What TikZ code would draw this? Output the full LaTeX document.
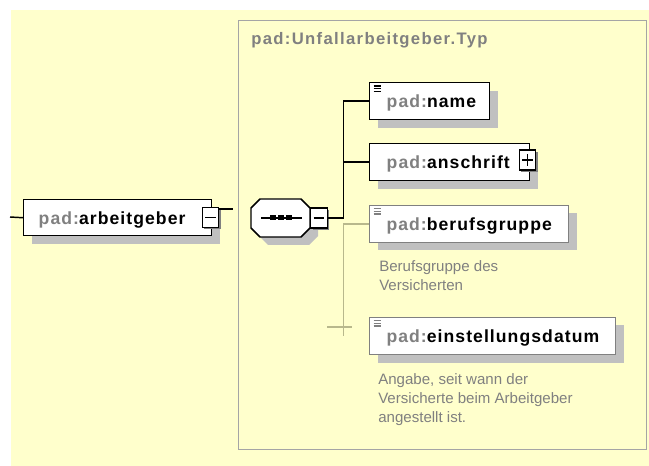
\documentclass[tikz,border=0pt]{standalone}
\usepackage{fontspec}
\setmainfont{Liberation Sans}
\newfontfamily\elemfont{Liberation Sans}[LetterSpace=6]
\newfontfamily\titlefont{Liberation Sans}[LetterSpace=8]
\usepackage{xcolor}
\definecolor{xsdyellow}{RGB}{255,255,204}
\definecolor{xsdgray}  {RGB}{128,128,128}
\definecolor{xsdframe} {RGB}{165,165,165}
\definecolor{xsdshade} {RGB}{192,192,192}
\definecolor{xsdbus}   {RGB}{184,184,140}
\usetikzlibrary{shadows,positioning}
\newcommand{\padpre}{{\color{xsdgray}pad:}}
\tikzset{
  elem/.style={rectangle, draw=black, line width=1.1pt, fill=white,
               anchor=north west, minimum height=27.75pt, inner xsep=12.75pt,
               inner ysep=0pt, text height=11pt, text depth=1.2pt, align=left,
               font=\elemfont\bfseries\fontsize{13.2pt}{15pt}\selectfont,
               drop shadow={shadow xshift=6pt, shadow yshift=-6pt,
                            fill=xsdshade, opacity=1}},
  optelem/.style={elem, draw=xsdgray, line width=0.75pt},
  simple/.style={path picture={
      \foreach \k in {0,1,2}
        \draw[line width=0.9pt] ([xshift=3pt, yshift=-2.4pt-2pt*\k]path picture bounding box.north west)
          -- ++(5.25pt,0);}},
  toggle/.style={rectangle, draw=black, line width=0.8pt, fill=white,
                 minimum width=12.5pt, minimum height=15pt, inner sep=0pt,
                 drop shadow={shadow xshift=1.5pt, shadow yshift=-1.5pt,
                              fill=xsdgray, opacity=1}},
  minus/.style={toggle, path picture={
      \draw[line width=0.8pt] ([xshift=-4pt]path picture bounding box.center)
        -- ([xshift=4pt]path picture bounding box.center);}},
  plus/.style={toggle, path picture={
      \draw[line width=0.8pt] ([xshift=-4pt]path picture bounding box.center)
        -- ([xshift=4pt]path picture bounding box.center);
      \draw[line width=0.8pt] ([yshift=-4.5pt]path picture bounding box.center)
        -- ([yshift=4.5pt]path picture bounding box.center);}},
  conn/.style={draw=black, line width=1.1pt},
  optconn/.style={draw=xsdbus, line width=0.9pt},
}

\begin{document}
\begin{tikzpicture}[
  x=0.75pt, y=-0.75pt,
  typbox/.style={rectangle, draw=xsdframe, line width=1.1pt, fill=xsdyellow,
                 anchor=north west, minimum width=306pt, minimum height=321.75pt},
  typtitle/.style={font=\titlefont\bfseries\fontsize{12.5pt}{14pt}\selectfont,
                   text=xsdgray, inner sep=0pt, anchor=base west},
  desc/.style={font=\fontsize{11.3pt}{14.25pt}\selectfont, text=xsdgray,
               align=left, inner sep=0pt, anchor=north west}
]
  \useasboundingbox (0,0) rectangle (649,466);
  \fill[xsdyellow] (11,10) rectangle (649,466);

  % complex type frame
  \node[typbox] (typ) at (238,20) {};
  \node[typtitle] (typname) at (251,45) {pad:Unfallarbeitgeber.Typ};

  % parent element
  \node[elem, inner xsep=11.25pt, text width=118.5pt, minimum height=27pt] (ag) at (23,199)
    {\padpre arbeitgeber};
  \node[minus] (agmin) at (210.5,217.5) {};

  % sequence compositor
  \fill[xsdshade, shift={(8,8)}] (260,199) -- (301,199) -- (310,208) -- (310,228)
    -- (301,237) -- (260,237) -- (251,228) -- (251,208) -- cycle;
  \filldraw[fill=white, draw=black, line width=1.1pt] (260,199) -- (301,199) -- (310,208)
    -- (310,228) -- (301,237) -- (260,237) -- (251,228) -- (251,208) -- cycle;
  \draw[line width=1pt] (261,218) -- (302,218);
  \foreach \cx in {272.5,280.5,288.5}
    \fill (\cx-3,215.5) rectangle (\cx+3,220.5);
  \node[minus] (seqmin) at (319,218) {};

  % child elements
  \node[elem, simple, text width=64.5pt] (name) at (369,82) {\padpre name};
  \node[elem, text width=94.5pt] (anschrift) at (369,143) {\padpre anschrift};
  \node[plus] (anplus) at (527.5,160) {};
  \node[optelem, simple, text width=123.75pt] (beruf) at (369,205) {\padpre berufsgruppe};
  \node[optelem, simple, text width=159pt] (einst) at (369,317) {\padpre einstellungsdatum};

  % annotations
  \node[desc] (berufdesc) at (379,260) {Berufsgruppe des\\Versicherten};
  \node[desc] (einstdesc) at (378,373)
    {Angabe, seit wann der\\Versicherte beim Arbeitgeber\\angestellt ist.};

  % connectors
  \coordinate (agin) at (10,217);
  \coordinate (agout) at (233,209);
  \coordinate (bus) at (343.5,0);
  \coordinate (busend) at (343.5,336);
  \coordinate (crossl) at (327,327);
  \coordinate (crossr) at (352,327);

  \draw[conn] (agin) -- (ag.west);
  \draw[conn] (agmin.east |- agout) -- (agout);
  \draw[conn] (seqmin.east) -- (seqmin.east -| bus) |- (name.west);
  \draw[conn] (seqmin.east -| bus) |- (anschrift.west);
  \draw[optconn] (beruf.west) -- (beruf.west -| bus) -- (busend);
  \draw[optconn] (crossl) -- (crossr);
\end{tikzpicture}
\end{document}
